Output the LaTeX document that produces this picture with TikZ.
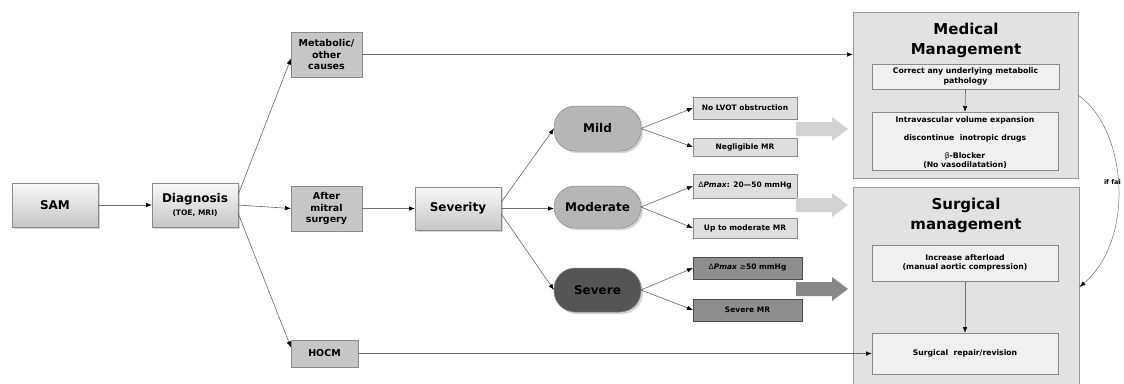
\documentclass[tikz,border=0pt]{standalone}
\usepackage{fontspec}
\setmainfont{DejaVu Sans}
\usetikzlibrary{arrows.meta,shadows,positioning}
\definecolor{lineg}{HTML}{6E6E6E}
\definecolor{catfill}{HTML}{C6C6C6}
\definecolor{catdraw}{HTML}{8A8A8A}
\definecolor{sevfill}{HTML}{B6B6B6}
\definecolor{sevdark}{HTML}{555555}
\definecolor{findl}{HTML}{DEDEDE}
\definecolor{findd}{HTML}{8E8E8E}
\definecolor{mgmtfill}{HTML}{E2E2E2}
\definecolor{mgmtdraw}{HTML}{9A9A9A}
\definecolor{innerfill}{HTML}{F0F0F0}
\definecolor{bigl}{HTML}{D2D2D2}
\definecolor{bigd}{HTML}{888888}
\newcommand{\fs}[1]{\fontsize{#1}{#1}\selectfont}
\newcommand{\fsl}[2]{\fontsize{#1}{#2}\selectfont}
\tikzset{
  base/.style={inner sep=0pt,outer sep=0pt,align=center,font=\bfseries},
  gradbox/.style={base,draw=catdraw,line width=0.5pt,top color=gray!5,bottom color=gray!45,
     drop shadow={shadow xshift=2pt,shadow yshift=-2pt,opacity=0.35}},
  catbox/.style={base,draw=catdraw,line width=0.6pt,fill=catfill,font=\bfseries\fsl{9.5}{11.5}},
  pill/.style={base,rounded corners=21pt,draw=catdraw,line width=0.5pt,fill=sevfill,
     drop shadow={shadow xshift=2pt,shadow yshift=-2pt,opacity=0.35},font=\bfseries\fs{12}},
  findbox/.style={base,draw=catdraw,line width=0.5pt,fill=findl,font=\bfseries\fs{7.5}},
  finddark/.style={base,draw=gray!60!black,line width=0.5pt,fill=findd,font=\bfseries\fs{7.5}},
  mgmt/.style={base,draw=mgmtdraw,line width=0.7pt,fill=mgmtfill},
  inner/.style={base,draw=catdraw,line width=0.5pt,fill=innerfill,font=\bfseries\fsl{7.7}{9}},
  conn/.style={draw=lineg,line width=0.65pt,-{Latex[length=6pt,width=4.5pt,black]}},
}
\begin{document}
\begin{tikzpicture}[x=1pt,y=-1pt]
\useasboundingbox (0,0) rectangle (1124,383);
\clip (0,0) rectangle (1124,383);
% management containers
\node[mgmt,minimum width=225pt,minimum height=166pt] (med) at (965.5,95) {};
\node[mgmt,minimum width=226pt,minimum height=210pt] (surg) at (966,292) {};
\node[base,font=\bfseries\fsl{15}{15}] (medt) at (966,40.5) {Medical\\[5pt]Management};
\node[base,font=\bfseries\fsl{15}{15}] (surgt) at (966,215) {Surgical\\[5pt]management};
\node[inner,minimum width=187pt,minimum height=25pt] (med1) at (965.5,76.5) {Correct any underlying metabolic\\[0.5pt]pathology};
\node[inner,minimum width=186pt,minimum height=58pt] (med2) at (965,141) {};
\node[base,font=\bfseries\fsl{7.7}{9}] (med2t) at (965,143) {Intravascular volume expansion\\[9pt]discontinue\ \ inotropic drugs\\[9pt]{\mdseries β}-Blocker\\(No vasodilatation)};
\node[inner,minimum width=186pt,minimum height=36pt] (surg1) at (965,263) {Increase afterload\\(manual aortic compression)};
\node[inner,minimum width=186pt,minimum height=41pt] (surg2) at (965,353.5) {Surgical\ \ repair/revision};
% left part
\node[gradbox,minimum width=86pt,minimum height=44pt,font=\bfseries\fs{12}] (sam) at (55,205) {SAM};
\node[gradbox,minimum width=86pt,minimum height=44pt] (diag) at (195,205) {{\fs{12}Diagnosis}\\[1pt]{\fs{7.5}(TOE, MRI)}};
\node[catbox,minimum width=71pt,minimum height=45pt] (meta) at (326.5,54.5) {Metabolic/\\other\\causes};
\node[catbox,minimum width=71pt,minimum height=45pt] (after) at (326.5,208.5) {After\\mitral\\surgery};
\node[catbox,minimum width=67pt,minimum height=27pt] (hocm) at (324.5,353.5) {HOCM};
\node[gradbox,minimum width=86pt,minimum height=43pt,font=\bfseries\fs{12}] (sev) at (458,208.5) {Severity};
\node[pill,minimum width=87pt,minimum height=45pt] (mild) at (597.5,128.5) {Mild};
\node[pill,minimum width=87pt,minimum height=42pt] (mod) at (597.5,207) {Moderate};
\node[pill,minimum width=87pt,minimum height=44pt,fill=sevdark] (sevr) at (597.5,290) {Severe};
\node[findbox,minimum width=104pt,minimum height=22pt] (f1) at (745,108) {No LVOT obstruction};
\node[findbox,minimum width=104pt,minimum height=18pt] (f2) at (745,147) {Negligible MR};
\node[findbox,minimum width=104pt,minimum height=24pt] (f3) at (745,186) {{\mdseries Δ}\textit{Pmax}: 20—50 mmHg};
\node[findbox,minimum width=104pt,minimum height=20pt] (f4) at (745,228) {Up to moderate MR};
\node[finddark,minimum width=109pt,minimum height=22pt] (f5) at (747.5,268) {{\mdseries Δ}\textit{Pmax} {\mdseries ≥}50 mmHg};
\node[finddark,minimum width=109pt,minimum height=22pt] (f6) at (747.5,310) {Severe MR};
% connectors
\draw[conn] (sam.east) -- (diag.west);
\draw[conn] ([yshift=10pt]diag.east) -- ([yshift=-4pt]meta.west);
\draw[conn] (diag.east) -- (after.west);
\draw[conn] ([yshift=-8pt]diag.east) -- ([yshift=6pt]hocm.west);
\draw[conn] (meta.east) -- (meta.east -| med.west);
\draw[conn] (hocm.east) -- (surg2.west);
\draw[conn] (after.east) -- (sev.west);
\draw[conn] ([yshift=6pt]sev.east) -- (mild.west);
\draw[conn] (sev.east) -- (sev.east -| mod.west);
\draw[conn] ([yshift=-5pt]sev.east) -- (sevr.west);
\draw[conn] (mild.east) -- (f1.west);
\draw[conn] (mild.east) -- (f2.west);
\draw[conn] (mod.east) -- (f3.west);
\draw[conn] (mod.east) -- (f4.west);
\draw[conn] (sevr.east) -- (f5.west);
\draw[conn] (sevr.east) -- (f6.west);
\draw[conn] (med1.south) -- (med2.north);
\draw[conn] (surg1.south) -- (surg2.north);
\coordinate (fs) at (1078,95);
\coordinate (fe) at (1079.5,287);
\draw[conn,line width=0.5pt] (fs) .. controls (1128,130) and (1135,240) .. (fe);
\node[base,anchor=west,font=\bfseries\fs{6.5}] (iff) at (1104,182) {if fai};
% big arrows
\fill[bigl] (796,122) -- (832,122) -- (832,117) -- (848,129) -- (832,141) -- (832,136) -- (796,136) -- cycle;
\fill[bigl] (796,198) -- (832,198) -- (832,193) -- (848,205) -- (832,217) -- (832,212) -- (796,212) -- cycle;
\fill[bigd] (796,282) -- (832,282) -- (832,277) -- (848,289) -- (832,301) -- (832,296) -- (796,296) -- cycle;
\end{tikzpicture}
\end{document}
